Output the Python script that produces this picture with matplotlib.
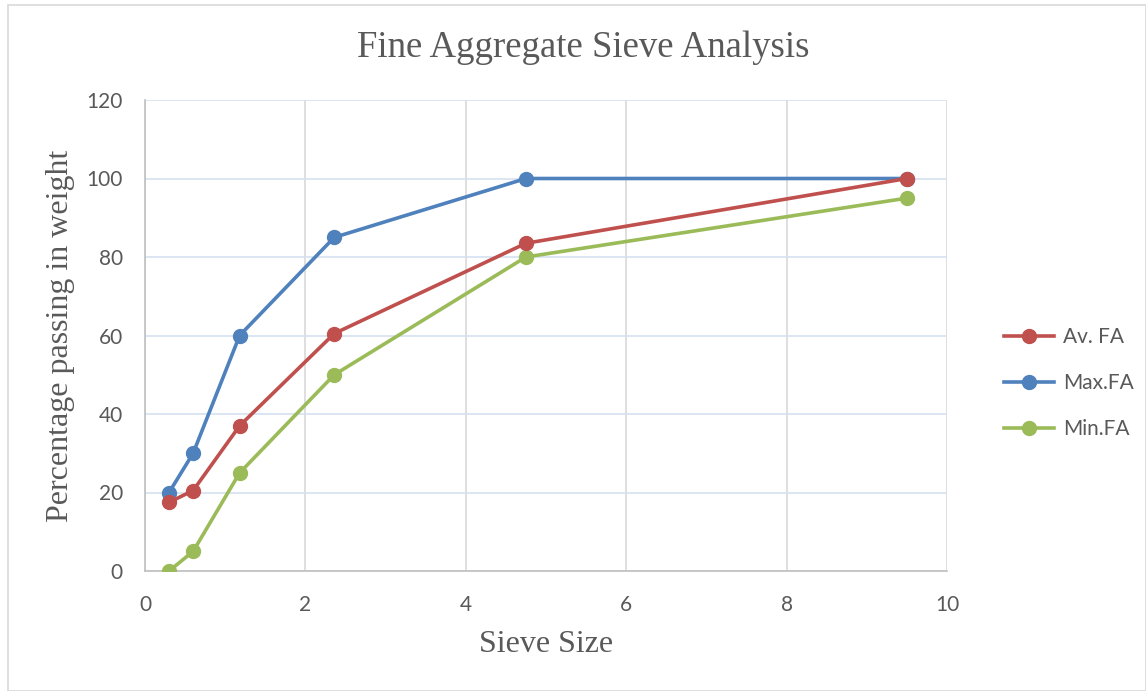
import matplotlib.pyplot as plt
from matplotlib.lines import Line2D
from matplotlib.patches import Rectangle

# sieve analysis - fine aggregate
sieve = [0.3, 0.6, 1.18, 2.36, 4.75, 9.5]
av_fa = [17.5, 20.5, 37, 60.5, 83.5, 100]
max_fa = [20, 30, 60, 85, 100, 100]
min_fa = [0, 5, 25, 50, 80, 95]

series = [
    ('Av. FA', av_fa, '#C0504D'),
    ('Max.FA', max_fa, '#4F81BD'),
    ('Min.FA', min_fa, '#9BBB59'),
]

fig = plt.figure(figsize=(11.46, 6.91), dpi=100)
ax = fig.add_axes([145 / 1146, 1 - 571 / 691, 802 / 1146, 471 / 691])

# draw in reverse so red stays on top like the original
for name, vals, col in series[::-1]:
    ax.plot(sieve, vals, color=col, linewidth=2.6, marker='o', markersize=10,
            solid_capstyle='round', zorder=3)

ax.set_xlim(0, 10)
ax.set_ylim(0, 120)
ax.set_xticks(range(0, 11, 2))
ax.set_yticks(range(0, 121, 20))
ax.grid(axis='y', color='#D6E0F0', linewidth=1.2)
ax.grid(axis='x', color='#D9D9D9', linewidth=1.2)
ax.set_axisbelow(True)
for s in ['top', 'right']:
    ax.spines[s].set_visible(False)
for s in ['left', 'bottom']:
    ax.spines[s].set_color('#BFBFBF')
    ax.spines[s].set_linewidth(1.2)
ax.tick_params(length=0, labelsize=15, labelcolor='#595959')
ax.tick_params(axis='x', pad=17)
ax.tick_params(axis='y', pad=16)
for lab in ax.get_xticklabels() + ax.get_yticklabels():
    lab.set_family('Lato')

ax.set_xlabel('Sieve Size', family='Liberation Serif', fontsize=23, color='#595959')
ax.set_ylabel('Percentage passing in weight', family='Liberation Serif', fontsize=23, color='#595959')
ax.xaxis.set_label_coords(0.5, -0.125)
ax.yaxis.set_label_coords(-0.087, 0.5)
fig.text(583 / 1146, 1 - 48 / 691, 'Fine Aggregate Sieve Analysis', family='Liberation Serif',
         fontsize=26.5, color='#595959', ha='center', va='center')

handles = [Line2D([], [], color=c, linewidth=2.6, marker='o', markersize=10) for _, _, c in series]
fig.legend(handles, [n for n, _, _ in series], loc='center left',
           bbox_to_anchor=(985 / 1146, 1 - 383 / 691), frameon=False,
           prop={'family': 'Lato', 'size': 15}, labelcolor='#595959',
           handlelength=2.4, labelspacing=1.25, handletextpad=0.45)

fig.patches.append(Rectangle((8 / 1146, 0), 1 - 8 / 1146, 1 - 5 / 691, transform=fig.transFigure,
                             fill=False, edgecolor='#D9D9D9', linewidth=1.2))

fig.savefig('out.png', dpi=100)
